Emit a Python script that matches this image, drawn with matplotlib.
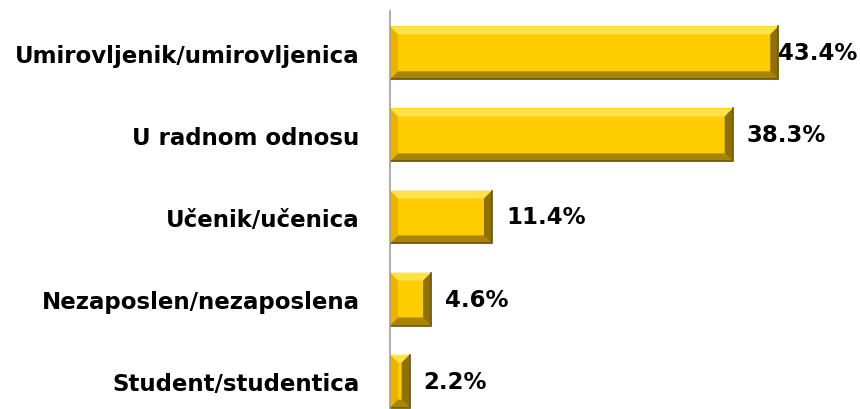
import matplotlib
matplotlib.use("Agg")
import matplotlib.pyplot as plt
from matplotlib.patches import Polygon

categories = ["Umirovljenik/umirovljenica", "U radnom odnosu", "Učenik/učenica",
              "Nezaposlen/nezaposlena", "Student/studentica"]
values = [43.4, 38.3, 11.4, 4.6, 2.2]
value_labels = ["43.4%", "38.3%", "11.4%", "4.6%", "2.2%"]

plt.rcParams['font.family'] = ['DejaVu Sans']

W, H = 860, 410
fig = plt.figure(figsize=(W / 100, H / 100), dpi=100)
left_px, right_px, top_px, bot_px = 390, 857, 12, 410
ax = fig.add_axes([left_px / W, 1 - bot_px / H, (right_px - left_px) / W, (bot_px - top_px) / H])

xmax = 52.2
ax.set_xlim(0, xmax)
ax.set_ylim(4.34, -0.51)

ypos = list(range(len(categories)))
bh = 0.645
face = "#FFCC00"
ax.barh(ypos, values, height=bh, color=face, edgecolor="none", zorder=2)

px_per_x = (right_px - left_px) / xmax
px_per_y = (bot_px - top_px) / 4.85
bx = 8 / px_per_x
by = 8 / px_per_y
for y, v in zip(ypos, values):
    x0, x1 = 0, v
    yt, yb = y - bh / 2, y + bh / 2
    b = min(bx, v / 2)
    ax.add_patch(Polygon([(x0, yt), (x1, yt), (x1 - b, yt + by), (x0 + b, yt + by)],
                         closed=True, facecolor="#FFE24A", edgecolor="none", zorder=3))
    ax.add_patch(Polygon([(x0, yt), (x0 + b, yt + by), (x0 + b, yb - by), (x0, yb)],
                         closed=True, facecolor="#E8B400", edgecolor="none", zorder=3))
    ax.add_patch(Polygon([(x0, yb), (x0 + b, yb - by), (x1 - b, yb - by), (x1, yb)],
                         closed=True, facecolor="#A88400", edgecolor="none", zorder=3))
    ax.add_patch(Polygon([(x1, yt), (x1, yb), (x1 - b, yb - by), (x1 - b, yt + by)],
                         closed=True, facecolor="#8F7000", edgecolor="none", zorder=3))
    ax.plot([x0, x1, x1], [yb, yb, yt], color="#6B5500", lw=1.2, zorder=4,
            solid_joinstyle="miter")

fs = 16.5
ax.set_yticks(ypos)
ax.set_yticklabels(categories, fontsize=fs, fontweight="bold", color="black")
ax.tick_params(axis="y", length=0, pad=22)
ax.set_xticks([])
for s in ["top", "right", "bottom"]:
    ax.spines[s].set_visible(False)
ax.spines["left"].set_color("#A0A0A0")
ax.spines["left"].set_linewidth(1.2)
ax.spines["left"].set_zorder(5)

fig.canvas.draw()
renderer = fig.canvas.get_renderer()
for y, v, lab in zip(ypos, values, value_labels):
    t = ax.annotate(lab, xy=(v, y), xytext=(10, 0), textcoords="offset points",
                    ha="left", va="center", fontsize=fs, fontweight="bold",
                    color="black", zorder=6, annotation_clip=False)
    bb = t.get_window_extent(renderer)
    axr = ax.get_window_extent(renderer).x1
    if bb.x1 > axr:
        t.remove()
        ax.annotate(lab, xy=(1.0, y), xycoords=("axes fraction", "data"),
                    ha="right", va="center", fontsize=fs, fontweight="bold",
                    color="black", zorder=6, annotation_clip=False)

fig.savefig("out.png", dpi=100, facecolor="white")
